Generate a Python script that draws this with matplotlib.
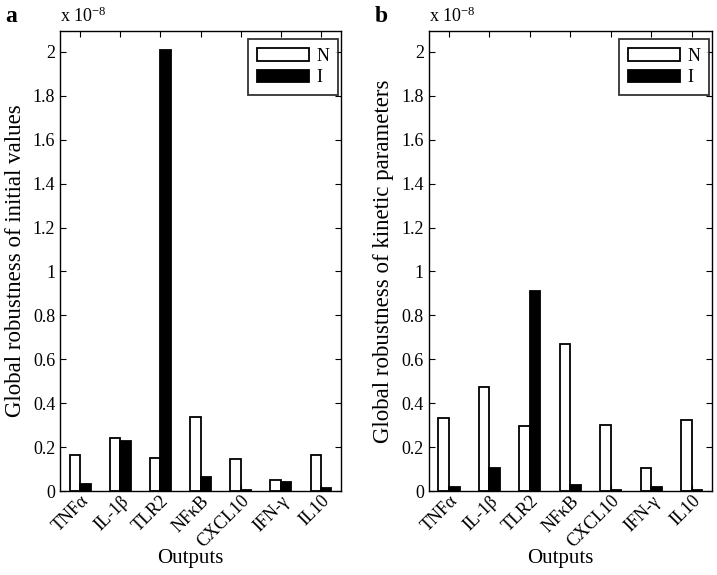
import matplotlib
matplotlib.use('Agg')
import matplotlib.pyplot as plt
import numpy as np

plt.rcParams['font.family'] = ['Liberation Serif', 'DejaVu Serif']
plt.rcParams['mathtext.fontset'] = 'stix'

outputs = ['TNF\u03b1', 'IL-1\u03b2', 'TLR2', 'NF\u03baB', 'CXCL10', 'IFN-\u03b3', 'IL10']
# values in units of 1e-8
initN = [0.166, 0.240, 0.152, 0.338, 0.148, 0.052, 0.163]
initI = [0.033, 0.230, 2.010, 0.062, 0.003, 0.041, 0.012]
kinN = [0.333, 0.473, 0.295, 0.670, 0.300, 0.105, 0.324]
kinI = [0.017, 0.105, 0.910, 0.027, 0.003, 0.019, 0.006]


def drawPanel(ax, nVals, iVals, ylabel):
    ind = np.arange(1, len(outputs) + 1)
    w = 0.26
    ax.bar(ind - w/2, nVals, w, color='white', edgecolor='black', linewidth=1.3, label='N')
    ax.bar(ind + w/2, iVals, w, color='black', edgecolor='black', linewidth=1.3, label='I')
    ax.set_xlim(0.5, 7.5)
    ax.set_ylim(0, 2.095)
    yt = np.arange(0, 2.01, 0.2)
    ax.set_yticks(yt)
    ax.set_yticklabels(['%g' % round(v, 1) for v in yt])
    ax.set_xticks(ind)
    ax.set_xticklabels(outputs, rotation=45, ha='right', rotation_mode='anchor')
    ax.tick_params(direction='in', top=True, right=True, length=4, labelsize=13)
    ax.tick_params(axis='x', pad=1)
    for s in ax.spines.values():
        s.set_linewidth(1.0)
    ax.set_xlabel('Outputs', fontsize=15)
    ax.xaxis.set_label_coords(0.465, -0.127)
    ax.set_ylabel(ylabel, fontsize=16.5, labelpad=5)
    ax.text(0.0, 1.011, 'x 10$^{\\mathregular{-8}}$', transform=ax.transAxes, fontsize=13,
            ha='left', va='bottom')
    leg = ax.legend(loc='upper right', bbox_to_anchor=(0.99, 0.983), borderaxespad=0,
                    handlelength=2.9, handleheight=0.7, fontsize=13,
                    frameon=True, fancybox=False, edgecolor='black',
                    handletextpad=0.4, labelspacing=0.25, borderpad=0.5)
    leg.get_frame().set_linewidth(1.3)


fig = plt.figure(figsize=(7.17, 5.75), dpi=100)
axA = fig.add_axes([0.0837, 0.146, 0.392, 0.80])
axB = fig.add_axes([0.598, 0.146, 0.395, 0.80])
drawPanel(axA, initN, initI, 'Global robustness of initial values')
drawPanel(axB, kinN, kinI, 'Global robustness of kinetic parameters')
fig.text(0.007, 0.99, 'a', fontsize=17, fontweight='bold', ha='left', va='top')
fig.text(0.522, 0.99, 'b', fontsize=17, fontweight='bold', ha='left', va='top')
fig.savefig('out.png', dpi=100)
